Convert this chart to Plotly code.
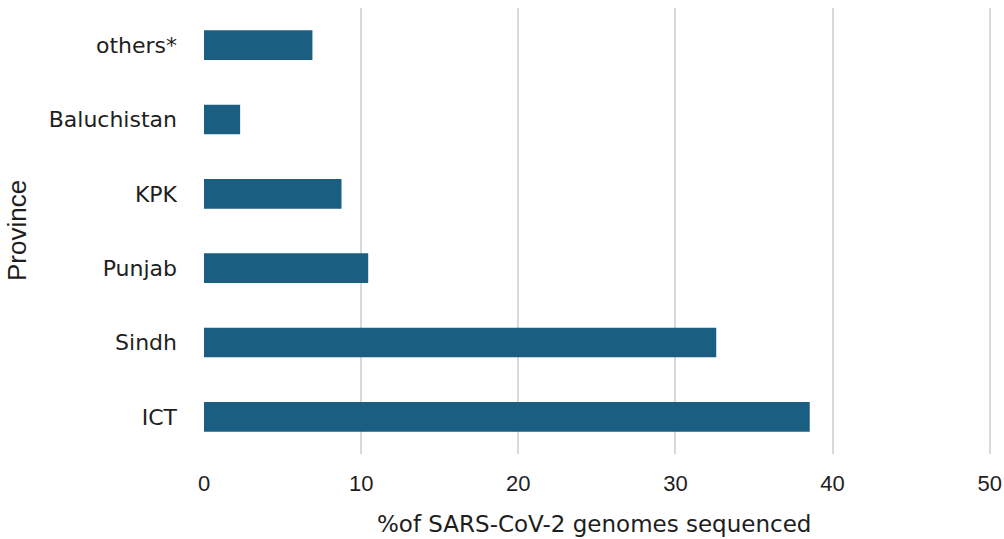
import plotly.graph_objects as go

provinces = ["ICT", "Sindh", "Punjab", "KPK", "Baluchistan", "others*"]
percent_sequenced = [38.55, 32.6, 10.45, 8.75, 2.3, 6.9]
x_ticks = [0, 10, 20, 30, 40, 50]

font_family = "DejaVu Sans, sans-serif"
text_color = "#1e1e1e"

fig = go.Figure(
    go.Bar(
        y=provinces,
        x=percent_sequenced,
        orientation="h",
        marker=dict(color="#1a5e82", line=dict(width=0)),
        hoverinfo="x+y",
    )
)

fig.update_layout(
    width=1004,
    height=539,
    margin=dict(l=204, r=12, t=8, b=85),
    paper_bgcolor="white",
    plot_bgcolor="white",
    bargap=0.6,
    showlegend=False,
    font=dict(family=font_family, color=text_color, size=20),
    annotations=[
        dict(
            text="%of SARS-CoV-2 genomes sequenced",
            xref="paper", yref="paper",
            x=0.5, y=-70 / 446, xanchor="center", yanchor="middle",
            xshift=-4,
            showarrow=False,
            font=dict(family=font_family, size=23, color=text_color),
        ),
        dict(
            text="Province",
            xref="paper", yref="paper",
            x=0, y=0.5, xanchor="center", yanchor="middle",
            xshift=-187,
            textangle=-90,
            showarrow=False,
            font=dict(family="Liberation Sans, Arial, sans-serif", size=26, color=text_color),
        ),
    ],
)

fig.update_xaxes(
    range=[0, 50.15],
    tickvals=x_ticks,
    showgrid=True,
    gridcolor="#d9d9d9",
    gridwidth=2,
    zeroline=False,
    showline=False,
    ticks="",
    ticklabelstandoff=14,
    automargin=False,
    tickfont=dict(family="Liberation Sans, Arial, sans-serif", size=22, color=text_color),
)

fig.update_yaxes(
    range=[-0.5, 5.5],
    showgrid=False,
    zeroline=False,
    showline=False,
    ticks="",
    ticklabelstandoff=26,
    automargin=False,
    tickfont=dict(family=font_family, size=22, color=text_color),
)

fig.write_html(
    "out.html",
    config={"displayModeBar": False},
    post_script="document.body.style.margin='0';document.body.style.padding='0';document.body.style.overflow='hidden';",
)
